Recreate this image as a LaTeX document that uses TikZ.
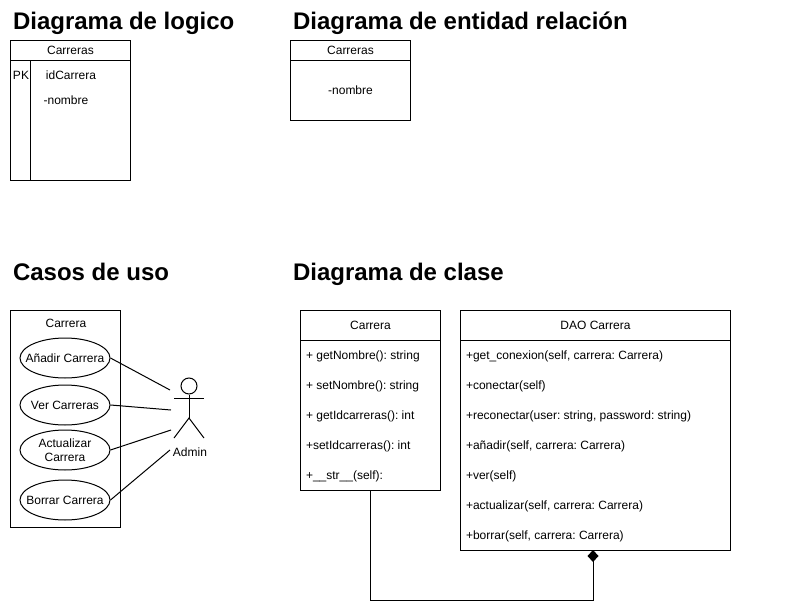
\documentclass[tikz,border=0pt]{standalone}
\usepackage{fontspec}
\setmainfont{Liberation Sans}
\usetikzlibrary{arrows.meta, positioning, shapes.geometric}
\frenchspacing

\begin{document}
\begin{tikzpicture}[
    x=1pt, y=-1pt,
    every node/.style={font=\fontsize{12}{14}\selectfont},
    line width=1pt,
    title/.style={anchor=base west, inner sep=0pt, font=\bfseries\fontsize{24}{28}\selectfont},
    umlbox/.style={rectangle, draw, anchor=north west, inner sep=0pt, align=center},
    usecase/.style={ellipse, draw, minimum width=90pt, minimum height=40pt, inner sep=0pt,
        label={[inner sep=0pt, align=center, font=\fontsize{12}{14}\selectfont]center:#1}},
    classrow/.style={anchor=north west, inner sep=0pt, outer sep=0pt, text height=9pt, text depth=3pt},
    rowgap/.style={below=18pt of #1.south west, anchor=north west},
    assoc/.style={draw},
    compose/.style={-{Diamond[length=12pt, width=11pt]}},
]
\useasboundingbox (0,0) rectangle (812,613);

% Titles
\node[title] (titlelogico)  at (12.5,30)  {Diagrama de logico};
\node[title] (titleentidad) at (292.5,30) {Diagrama de entidad relación};
\node[title] (titlecasos)   at (12.5,280) {Casos de uso};
\node[title] (titleclase)   at (292.5,280) {Diagrama de clase};

% Logical table
\node[umlbox, minimum width=120pt, minimum height=140pt] (logico) at (10,40) {};
\node[umlbox, minimum width=120pt, minimum height=20pt] (logicohead) at (10,40) {Carreras};
\draw (logico.north west) ++(20,20) coordinate (pktop) -- (pktop |- logico.south);
\node (pk) at (21,75.5) [inner sep=0pt] {PK};
\node (idcarrera) at (71,75.5) [inner sep=0pt] {idCarrera};
\node (nombrelogico) at (66,100.5) [inner sep=0pt] {-nombre};

% Entity table
\node[umlbox, minimum width=120pt, minimum height=80pt] (entidad) at (290,40) {};
\node[umlbox, minimum width=120pt, minimum height=20pt] (entidadhead) at (290,40) {Carreras};
\node (nombreentidad) at (350.5,90.5) [inner sep=0pt] {-nombre};

% Use cases
\node[umlbox, minimum width=110pt, minimum height=217pt] (sistema) at (10,310) {};
\node (sistemalabel) at (66,323.5) [inner sep=0pt] {Carrera};
\node[usecase={Añadir Carrera}] (anadir) at (65,358) {};
\node[usecase={Ver Carreras}] (ver) at (65,405) {};
\node[usecase={Actualizar\\Carrera}] (actualizar) at (65,450) {};
\node[usecase={Borrar Carrera}] (borrar) at (65,500) {};

% Actor
\node[circle, draw, minimum size=16pt, inner sep=0pt] (head) at (189,386) {};
\coordinate (hip) at (189,418);
\coordinate (armleft) at (174,398);
\coordinate (armright) at (204,398);
\coordinate (footleft) at (174,438);
\coordinate (footright) at (204,438);
\draw (head.south) -- (hip);
\draw (armleft) -- (armright);
\draw (footleft) -- (hip) -- (footright);
\node (admin) at (190,452.5) [inner sep=0pt] {Admin};

\coordinate (toanadir) at (170,390);
\coordinate (tover) at (171,410);
\coordinate (toactualizar) at (171,430);
\coordinate (toborrar) at (170,450);
\draw[assoc] (anadir.east) -- (toanadir);
\draw[assoc] (ver.east) -- (tover);
\draw[assoc] (actualizar.east) -- (toactualizar);
\draw[assoc] (borrar.east) -- (toborrar);

% Class Carrera
\node[umlbox, minimum width=140pt, minimum height=180pt] (carrera) at (300,310) {};
\node[umlbox, minimum width=140pt, minimum height=30pt] (carrerahead) at (300,310) {Carrera};
\node[classrow] (getnombre) at (306,350) {+ getNombre(): string};
\node[classrow, rowgap=getnombre] (setnombre) {+ setNombre(): string};
\node[classrow, rowgap=setnombre] (getid) {+ getIdcarreras(): int};
\node[classrow, rowgap=getid] (setid) {+setIdcarreras(): int};
\node[classrow, rowgap=setid] (str) {+\_\_str\_\_(self):};

% Class DAO Carrera
\node[umlbox, minimum width=270pt, minimum height=240pt] (dao) at (460,310) {};
\node[umlbox, minimum width=270pt, minimum height=30pt] (daohead) at (460,310) {DAO Carrera};
\node[classrow] (conexion) at (466,350) {+get\_conexion(self, carrera: Carrera)};
\node[classrow, rowgap=conexion] (conectar) {+conectar(self)};
\node[classrow, rowgap=conectar] (reconectar) {+reconectar(user: string, password: string)};
\node[classrow, rowgap=reconectar] (anadirdao) {+añadir(self, carrera: Carrera)};
\node[classrow, rowgap=anadirdao] (verdao) {+ver(self)};
\node[classrow, rowgap=verdao] (actualizardao) {+actualizar(self, carrera: Carrera)};
\node[classrow, rowgap=actualizardao] (borrardao) {+borrar(self, carrera: Carrera)};

% Composition
\coordinate (daoport) at (593,550);
\coordinate (bend) at (593,600);
\draw[compose] (carrera.south) |- (bend) -- (daoport);

\end{tikzpicture}
\end{document}
